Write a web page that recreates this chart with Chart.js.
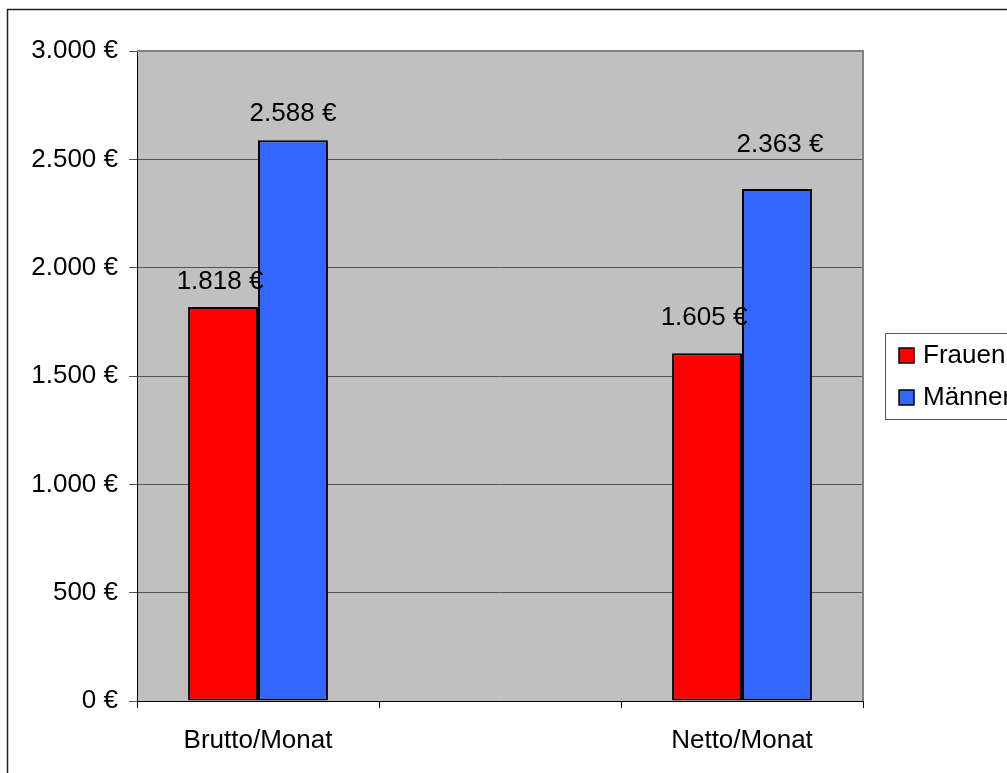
<!DOCTYPE html>
<html lang="de">
<head>
<meta charset="utf-8">
<title>Einkommen Frauen und Männer</title>
<script src="https://cdn.jsdelivr.net/npm/chart.js@4.4.1/dist/chart.umd.min.js"></script>
<style>
  html, body { margin: 0; padding: 0; background: #ffffff; }
  #wrap { width: 1007px; height: 773px; }
  canvas { display: block; }
</style>
</head>
<body>
<div id="wrap"><canvas id="chart" width="1007" height="773"></canvas></div>
<script>
// Monthly income by gender (Euro)
const categories = ['Brutto/Monat', '', 'Netto/Monat'];
const seriesNames = ['Frauen', 'Männer'];
const frauen = [1818, null, 1605];
const maenner = [2588, null, 2363];
const yTicks = [0, 500, 1000, 1500, 2000, 2500, 3000];

const FONT = '"Liberation Sans", Arial, sans-serif';
const FONT_SIZE = 26;

// German number format: thousands separated by '.'
function euro(v) {
  const s = String(Math.round(v));
  return s.replace(/\B(?=(\d{3})+(?!\d))/g, '.') + ' €';
}

// Grey plot background and its border
const plotFrame = {
  id: 'plotFrame',
  beforeDraw(chart) {
    const { ctx, chartArea: a } = chart;
    ctx.save();
    ctx.fillStyle = '#ffffff';
    ctx.fillRect(0, 0, chart.width, chart.height);
    ctx.fillStyle = '#c0c0c0';
    ctx.fillRect(a.left, a.top, a.right - a.left, a.bottom - a.top);
    ctx.restore();
  },
  afterDatasetsDraw(chart) {
    const { ctx, chartArea: a } = chart;
    ctx.save();
    ctx.strokeStyle = '#808080';
    ctx.lineWidth = 2;
    ctx.beginPath();
    ctx.moveTo(a.left, a.top);
    ctx.lineTo(a.right, a.top);
    ctx.lineTo(a.right, a.bottom);
    ctx.stroke();
    ctx.restore();
  }
};

// Value labels above the bars
const valueLabels = {
  id: 'valueLabels',
  afterDatasetsDraw(chart, args, opts) {
    const { ctx } = chart;
    ctx.save();
    ctx.font = FONT_SIZE + 'px ' + FONT;
    ctx.fillStyle = '#000000';
    ctx.textAlign = 'center';
    ctx.textBaseline = 'alphabetic';
    chart.data.datasets.forEach((ds, di) => {
      const meta = chart.getDatasetMeta(di);
      meta.data.forEach((bar, i) => {
        const v = ds.data[i];
        if (v === null || v === undefined) return;
        const shift = (opts.shift[di] && opts.shift[di][i]) || { dx: 0, dy: 18 };
        ctx.fillText(euro(v), bar.x + shift.dx, bar.y - shift.dy);
      });
    });
    ctx.restore();
  }
};

// Boxed legend to the right of the plot, plus outer frame
const sideLegend = {
  id: 'sideLegend',
  afterDraw(chart) {
    const { ctx, chartArea: a } = chart;
    const left = a.right + 22;
    const h = 86;
    const top = Math.round((a.top + a.bottom) / 2 - h / 2);
    ctx.save();
    ctx.fillStyle = '#ffffff';
    ctx.fillRect(left, top, 200, h);
    ctx.strokeStyle = '#555555';
    ctx.lineWidth = 1;
    ctx.strokeRect(left + 0.5, top + 0.5, 200, h);
    ctx.font = FONT_SIZE + 'px ' + FONT;
    ctx.textAlign = 'left';
    ctx.textBaseline = 'alphabetic';
    chart.data.datasets.forEach((ds, i) => {
      const y = top + 15 + i * 42;
      ctx.fillStyle = ds.backgroundColor;
      ctx.fillRect(left + 14, y, 15, 15);
      ctx.strokeStyle = '#000000';
      ctx.lineWidth = 1.5;
      ctx.strokeRect(left + 14, y, 15, 15);
      ctx.fillStyle = '#000000';
      ctx.fillText(ds.label, left + 38, y + 15);
    });
    // outer chart frame
    ctx.strokeStyle = '#222222';
    ctx.lineWidth = 1.5;
    ctx.strokeRect(7.5, 9.5, 1200, 1000);
    ctx.restore();
  }
};

Chart.defaults.font.family = FONT;
Chart.defaults.font.size = FONT_SIZE;
Chart.defaults.color = '#000000';

new Chart(document.getElementById('chart'), {
  type: 'bar',
  data: {
    labels: categories,
    datasets: [
      {
        label: seriesNames[0],
        data: frauen,
        backgroundColor: '#ff0000',
        borderColor: '#000000',
        borderWidth: 2,
        borderSkipped: false
      },
      {
        label: seriesNames[1],
        data: maenner,
        backgroundColor: '#3366ff',
        borderColor: '#000000',
        borderWidth: 2,
        borderSkipped: false
      }
    ]
  },
  options: {
    responsive: false,
    animation: false,
    events: [],
    layout: { padding: { top: 51, right: 144, left: 0, bottom: 0 } },
    datasets: { bar: { barPercentage: 1, categoryPercentage: 0.578 } },
    plugins: {
      legend: { display: false },
      tooltip: { enabled: false },
      valueLabels: {
        shift: [
          [{ dx: -3, dy: 18 }, null, { dx: -3, dy: 28 }],
          [{ dx: 0, dy: 19 }, null, { dx: 3, dy: 37 }]
        ]
      }
    },
    scales: {
      x: {
        offset: true,
        grid: {
          offset: true,
          drawOnChartArea: false,
          tickLength: 7,
          tickColor: '#000000',
          color: '#000000'
        },
        border: { display: true, color: '#000000', width: 1 },
        ticks: { padding: 17, maxRotation: 0, autoSkip: false, color: '#000000' },
        afterFit(scale) { scale.height = 72; }
      },
      y: {
        min: 0,
        max: 3000,
        afterBuildTicks(scale) { scale.ticks = yTicks.map(v => ({ value: v })); },
        grid: { color: '#555555', tickColor: '#555555', tickLength: 8, lineWidth: 1 },
        border: { display: true, color: '#000000', width: 1 },
        ticks: { padding: 11, color: '#000000', callback: v => euro(v) },
        afterFit(scale) { scale.width = 137; }
      }
    }
  },
  plugins: [plotFrame, valueLabels, sideLegend]
});
</script>
</body>
</html>
